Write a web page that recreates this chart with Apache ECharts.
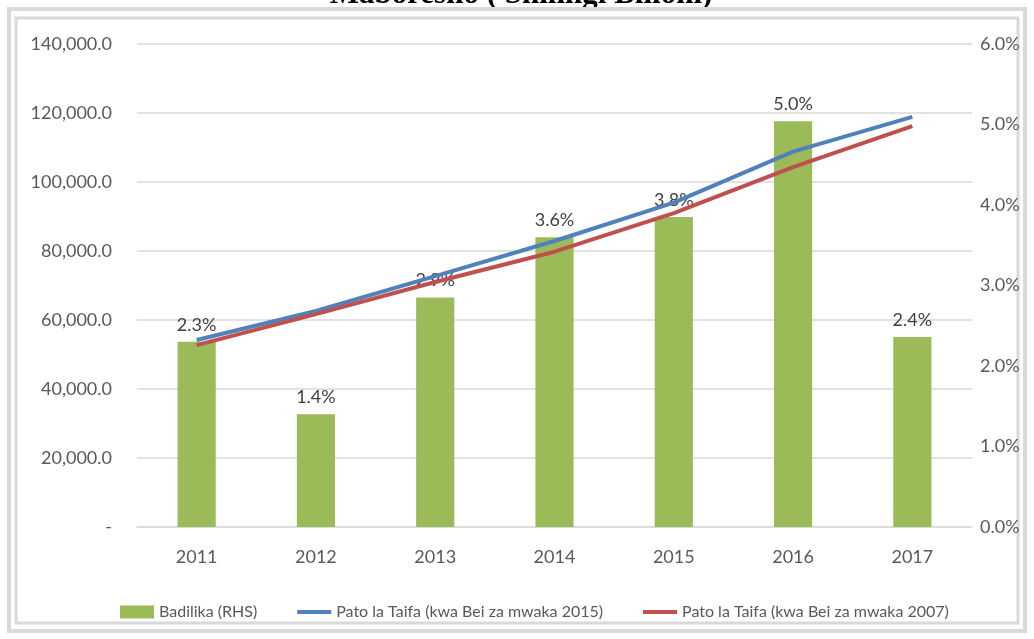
<!DOCTYPE html>
<html>
<head>
<meta charset="utf-8">
<script src="https://cdn.jsdelivr.net/npm/echarts@6/dist/echarts.min.js"></script>
<style>
  html, body { margin: 0; padding: 0; background: #fff; }
  #chart { width: 1034px; height: 639px; }
</style>
</head>
<body>
<div id="chart"></div>
<script>
// data
const years = ['2011', '2012', '2013', '2014', '2015', '2016', '2017']
const badilika = [2.3, 1.4, 2.85, 3.6, 3.85, 5.04, 2.36]
const badilikaLabels = ['2.3%', '1.4%', '2.9%', '3.6%', '3.8%', '5.0%', '2.4%']
const pato2015 = [54200, 62600, 72700, 82900, 94000, 108800, 118900]
const pato2007 = [52700, 61700, 71000, 79800, 91000, 104300, 116200]
const leftTicks = { min: 0, max: 140000, interval: 20000 }
const rightTicks = { min: 0, max: 6, interval: 1 }

const textColor = '#595959'
const gridColor = '#D9D9D9'
const font = 'Lato'
// thick line icon for legend (move-to points keep the box size)
const lineIcon = 'path://M0,0 M34,13 M0,4.5 L34,4.5 L34,8.5 L0,8.5 Z'

const chart = echarts.init(document.getElementById('chart'))

function fmtThousands(v) {
  if (v === 0) return '-'
  return v.toLocaleString('en-US', { minimumFractionDigits: 1, maximumFractionDigits: 1 })
}

const option = {
  animation: false,
  textStyle: { fontFamily: font },
  graphic: [
    {
      type: 'rect', shape: { x: 9, y: 9, width: 1016, height: 622 },
      style: { fill: 'none', stroke: gridColor, lineWidth: 4 }
    },
    {
      type: 'rect', shape: { x: 16, y: 18, width: 1002, height: 605 },
      style: { fill: 'none', stroke: gridColor, lineWidth: 3 }
    },
    {
      type: 'text', x: 521, y: 10,
      style: {
        text: 'Maboresho ( Shilingi Bilioni)',
        align: 'center', verticalAlign: 'bottom',
        fontFamily: 'Liberation Serif', fontWeight: 'bold', fontSize: 31, fill: '#000'
      },
      z: -1
    }
  ],
  grid: { left: 137, right: 62, top: 44, bottom: 112 },
  legend: {
    top: 599,
    left: 115,
    itemGap: 40,
    itemWidth: 34,
    itemHeight: 13,
    textStyle: { color: textColor, fontSize: 16, fontFamily: font },
    data: [
      { name: 'Badilika (RHS)', icon: 'rect' },
      { name: 'Pato la Taifa (kwa Bei za mwaka 2015)', icon: lineIcon },
      { name: 'Pato la Taifa (kwa Bei za mwaka 2007)', icon: lineIcon }
    ]
  },
  xAxis: {
    type: 'category',
    data: years,
    axisLine: { lineStyle: { color: gridColor, width: 1.5 } },
    axisTick: { show: false },
    axisLabel: { color: textColor, fontSize: 18, margin: 21 }
  },
  yAxis: [
    {
      type: 'value',
      min: leftTicks.min, max: leftTicks.max, interval: leftTicks.interval,
      axisLine: { show: false },
      axisTick: { show: false },
      splitLine: { lineStyle: { color: gridColor, width: 1.5 } },
      axisLabel: { color: textColor, fontSize: 18, margin: 25, formatter: fmtThousands }
    },
    {
      type: 'value',
      min: rightTicks.min, max: rightTicks.max, interval: rightTicks.interval,
      axisLine: { show: false },
      axisTick: { show: false },
      splitLine: { show: false },
      axisLabel: { color: textColor, fontSize: 18, margin: 8, formatter: v => v.toFixed(1) + '%' }
    }
  ],
  series: [
    {
      name: 'Badilika (RHS)',
      type: 'bar',
      yAxisIndex: 1,
      data: badilika,
      barWidth: '32%',
      itemStyle: { color: '#9BBB59' },
      label: {
        show: true,
        position: 'top',
        distance: 8,
        color: '#404040',
        fontSize: 18,
        fontFamily: font,
        formatter: p => badilikaLabels[p.dataIndex]
      },
      z: 1
    },
    {
      name: 'Pato la Taifa (kwa Bei za mwaka 2015)',
      type: 'line',
      data: pato2015,
      symbol: 'none',
      lineStyle: { color: '#4F81BD', width: 4 },
      itemStyle: { color: '#4F81BD' },
      z: 3
    },
    {
      name: 'Pato la Taifa (kwa Bei za mwaka 2007)',
      type: 'line',
      data: pato2007,
      symbol: 'none',
      lineStyle: { color: '#C0504D', width: 4 },
      itemStyle: { color: '#C0504D' },
      z: 3
    }
  ]
}

chart.setOption(option)
</script>
</body>
</html>
